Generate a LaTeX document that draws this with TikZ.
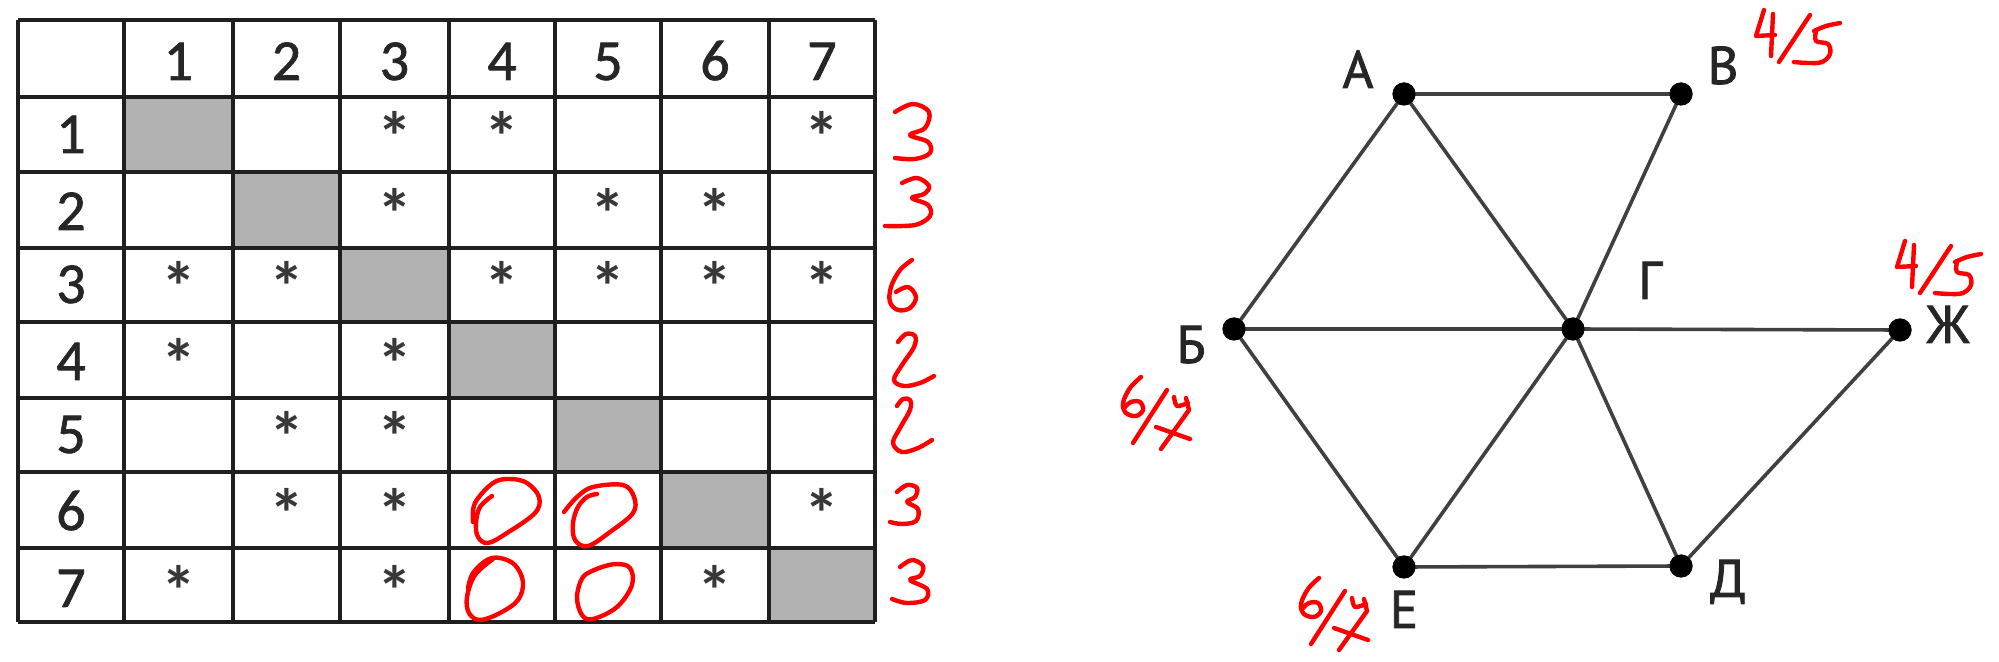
\documentclass[tikz,border=0pt]{standalone}
\usepackage{fontspec}
\setmainfont{Carlito}
\newfontfamily\tabfont[FakeBold=1.2]{Carlito}
\newfontfamily\starfont{Carlito Bold}
\newfontfamily\lblfont[FakeBold=1.6]{PT Sans}
\begin{document}
\begin{tikzpicture}[x=0.5pt,y=-0.5pt,
  tline/.style={line width=1.7pt,draw=black!88},
  graycell/.style={fill=black!30},
  cell/.style={anchor=base,inner sep=0pt,font=\tabfont\fontsize{29}{30}\selectfont,text=black!85},
  star/.style={anchor=base,inner sep=0pt,font=\starfont\fontsize{35}{36}\selectfont,text=black!78},
  edge/.style={line width=1.8pt,draw=black!75},
  vert/.style={circle,fill=black,minimum size=11.5pt,inner sep=0pt},
  vlabel/.style={anchor=base,inner sep=0pt,font=\lblfont\fontsize{26.5}{28}\selectfont,text=black!85},
  hand/.style={draw=red,line width=2.2pt,line cap=round,line join=round},
  sixseven/.pic={
    \draw[hand] plot[smooth,tension=0.6] coordinates {(1141,377) (1130,388) (1123,403) (1126,413) (1136,416) (1143,410) (1140,402) (1131,402) (1124,408)};
    \draw[hand] (1133,443) -- (1167,390);
    \draw[hand] plot[smooth,tension=0.5] coordinates {(1174,397) (1177,406) (1188,403)};
    \draw[hand] (1186,398) -- (1189,410) -- (1161,449);
    \draw[hand] (1156,427) -- (1190,439);
  },
  fourfive/.pic={
    \draw[hand] (1764,10) -- (1756,36) -- (1775,35);
    \draw[hand] (1773,14) -- (1771,56);
    \draw[hand] (1779,62) -- (1810,15);
    \draw[hand] plot[smooth,tension=0.5] coordinates {(1814,31) (1826,26) (1840,23)};
    \draw[hand] plot[smooth,tension=0.6] coordinates {(1816,31) (1816,41) (1828,44) (1830,54) (1822,62) (1808,63) (1794,62)};
  }]
\useasboundingbox (0,0) rectangle (1999,662);
\fill[white] (0,0) rectangle (1999,662);
% ---------- table ----------
\fill[graycell] (124,97) rectangle (233,172);
\fill[graycell] (233,172) rectangle (340,248);
\fill[graycell] (340,248) rectangle (449,322);
\fill[graycell] (449,322) rectangle (555,398);
\fill[graycell] (555,398) rectangle (661,472);
\fill[graycell] (661,472) rectangle (769,548);
\fill[graycell] (769,548) rectangle (875,622);
\foreach \x in {18,124,233,340,449,555,661,769,875}
  \draw[tline] (\x,20) -- (\x,622);
\foreach \y in {20,97,172,248,322,398,472,548,622}
  \draw[tline] (18,\y) -- (875,\y);
\def\colx{{71,178.5,286.5,394.5,502,608,715,822}}
\def\rowb{{80,153,230,303,380,453,530,607}}
\foreach \c in {1,...,7}{
  \pgfmathsetmacro\xx{\colx[\c]}
  \node[cell] (h-\c) at (\xx,80) {\c};
}
\foreach \r in {1,...,7}{
  \pgfmathsetmacro\yy{\rowb[\r]}
  \node[cell] (v-\r) at (71,\yy) {\r};
}
\foreach \r/\c in {1/3,1/4,1/7,2/3,2/5,2/6,3/1,3/2,3/4,3/5,3/6,3/7,4/1,4/3,5/2,5/3,6/2,6/3,6/7,7/1,7/3,7/6}{
  \pgfmathsetmacro\xx{\colx[\c]}
  \pgfmathsetmacro\yy{\rowb[\r]+9}
  \node[star] (s-\r-\c) at (\xx,\yy) {*};
}
% ---------- red handwriting near the table ----------
\draw[hand] plot[smooth,tension=0.6] coordinates {(895,112) (913,104) (929,112) (925,128) (910,135) (928,142) (930,153) (915,159) (895,158)};
\draw[hand] plot[smooth,tension=0.6] coordinates {(902,183) (917,178) (929,186) (924,194) (912,198) (928,205) (930,216) (915,225) (885,226)};
\draw[hand] plot[smooth,tension=0.6] coordinates {(912,260) (900,270) (891,287) (890,302) (898,310) (910,308) (916,297) (908,287) (896,292)};
\draw[hand] plot[smooth,tension=0.6] coordinates {(898,342) (906,334) (915,336) (914,347) (902,365) (894,380) (904,386) (920,383) (934,376)};
\draw[hand] plot[smooth,tension=0.6] coordinates {(897,406) (903,399) (910,400) (910,410) (900,428) (893,443) (902,452) (918,448) (932,440)};
\draw[hand] plot[smooth,tension=0.6] coordinates {(897,492) (907,485) (917,488) (915,497) (907,502) (918,509) (916,521) (902,524) (890,522)};
\draw[hand] plot[smooth,tension=0.6] coordinates {(900,567) (912,560) (923,566) (920,576) (910,580) (927,589) (925,600) (907,603) (892,599)};
\draw[hand] plot[smooth,tension=0.6] coordinates {(473,522) (475,503) (493,483) (510,479) (527,483) (539,497) (535,513) (507,533) (488,543) (478,537) (476,523) (480,507) (492,496)};
\draw[hand] plot[smooth,tension=0.6] coordinates {(564,512) (577,497) (593,487) (623,485) (634,497) (633,513) (610,532) (588,546) (575,540) (573,523) (578,507) (587,497) (597,494)};
\draw[hand] plot[smooth,tension=0.6] coordinates {(468,588) (473,573) (487,560) (500,558) (515,565) (523,582) (518,600) (500,613) (480,620) (469,613) (467,597) (475,575) (493,559)};
\draw[hand] plot[smooth,tension=0.6] coordinates {(597,569) (583,577) (577,597) (582,615) (593,619) (617,607) (632,585) (630,568) (617,564) (602,567) (590,572)};
% ---------- graph ----------
\node[vert] (A) at (1404,94) {};
\node[vert] (V) at (1681,94) {};
\node[vert] (B) at (1234,329) {};
\node[vert] (G) at (1573,329) {};
\node[vert] (Zh) at (1900,330) {};
\node[vert] (E) at (1404,567) {};
\node[vert] (D) at (1681,566) {};
\foreach \p/\q in {A/V,A/B,A/G,V/G,B/G,G/Zh,B/E,E/G,G/D,E/D,D/Zh}
  \draw[edge] (\p.center) -- (\q.center);
\foreach \n in {A,V,B,G,Zh,E,D}
  \fill (\n) circle[radius=5.75pt];
\node[vlabel] (lA) at (1358,88) {А};
\node[vlabel] (lV) at (1723,84) {В};
\node[vlabel] (lG) at (1650,299) {Г};
\node[vlabel] (lB) at (1191,363) {Б};
\node[vlabel] (lZh) at (1948,343) {Ж};
\node[vlabel] (lE) at (1404,628) {Е};
\node[vlabel] (lD) at (1728,597) {Д};
% ---------- red handwriting near the graph ----------
\pic at (0,0) {fourfive};
\pic at (141,231) {fourfive};
\pic at (0,0) {sixseven};
\pic at (178,201) {sixseven};
\end{tikzpicture}
\end{document}
